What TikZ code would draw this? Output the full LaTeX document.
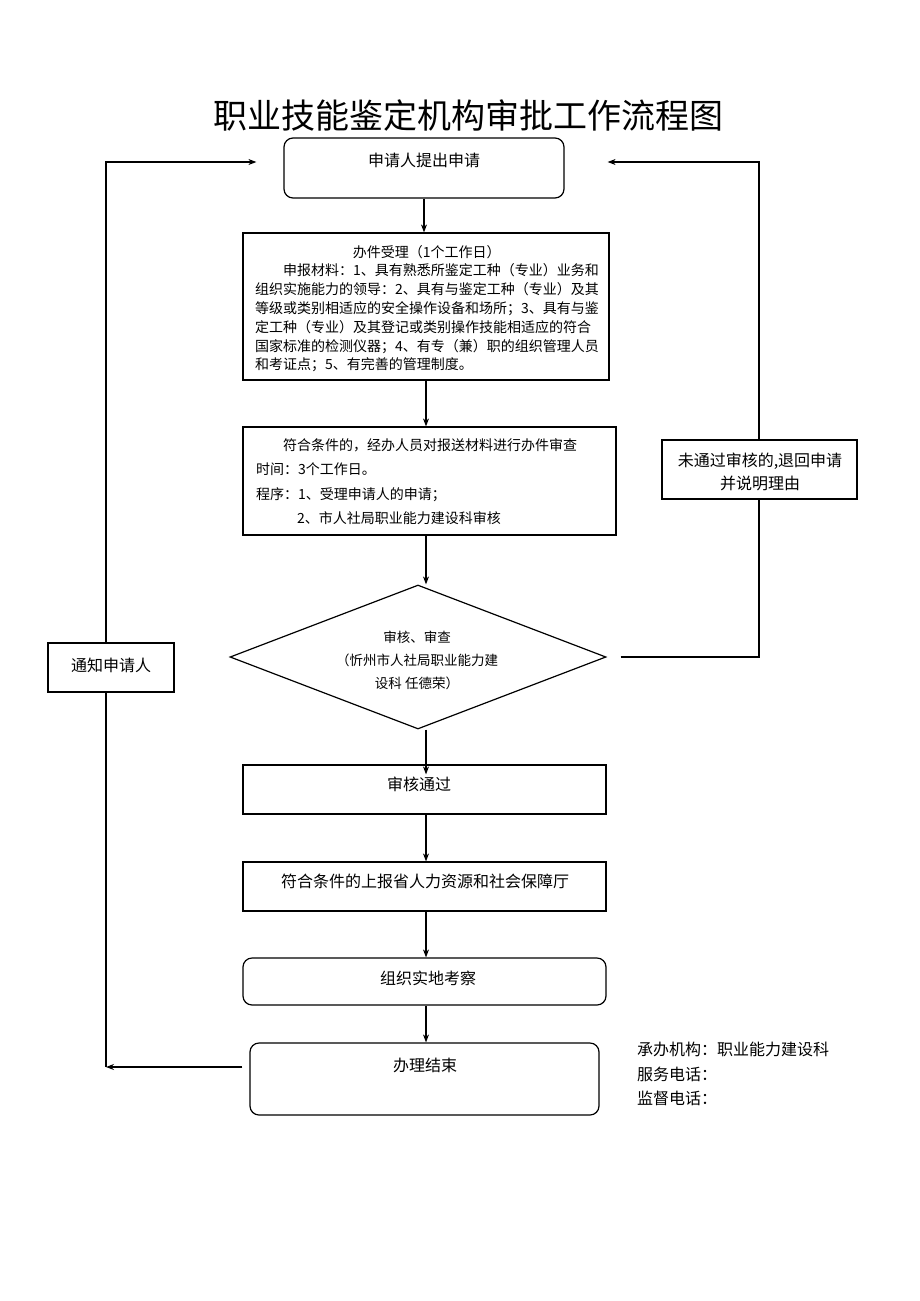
\documentclass[tikz,border=0pt]{standalone}
\usepackage{fontspec}
\setmainfont{Noto Sans CJK SC}
\usetikzlibrary{arrows.meta,shapes.geometric}
\begin{document}
\begin{tikzpicture}[x=1pt,y=-1pt,
  box/.style={draw,line width=1.2pt,inner sep=0pt,fill=white},
  rbox/.style={box,rounded corners=9pt},
  arr/.style={-{Stealth[length=8pt,width=6pt]},line width=1.1pt},
  conn/.style={line width=1.1pt},
  t16/.style={inner sep=0pt,font=\fontsize{16}{24}\selectfont}]
\useasboundingbox (0,0) rectangle (920,1301);
\fill[white] (0,0) rectangle (920,1301);

\node[inner sep=0pt,font=\fontsize{34}{40}\selectfont] (title) at (468,116) {职业技能鉴定机构审批工作流程图};

% boxes
\node[rbox,minimum width=280,minimum height=60] (b1) at (424,168) {};
\node[t16] (b1t) at (424,160) {申请人提出申请};

\node[box,minimum width=366,minimum height=147] (b2) at (426,306.5) {};
\node[anchor=north west,inner sep=0pt,align=left,font=\fontsize{14}{18.8}\selectfont] (b2t) at (255,245)
{\makebox[343pt]{办件受理（1个工作日）}\\
\hspace*{28pt}申报材料：1、具有熟悉所鉴定工种（专业）业务和\\
组织实施能力的领导：2、具有与鉴定工种（专业）及其\\
等级或类别相适应的安全操作设备和场所；3、具有与鉴\\
定工种（专业）及其登记或类别操作技能相适应的符合\\
国家标准的检测仪器；4、有专（兼）职的组织管理人员\\
和考证点；5、有完善的管理制度。};

\node[box,minimum width=373,minimum height=108] (b3) at (429.5,481) {};
\node[anchor=north west,inner sep=0pt,align=left,font=\fontsize{14}{24.5}\selectfont] (b3t) at (256,438)
{\hspace*{27pt}符合条件的，经办人员对报送材料进行办件审查\\
时间：3个工作日。\\
程序：1、受理申请人的申请；\\
\hspace*{41pt}2、市人社局职业能力建设科审核};

\node[draw,diamond,line width=1.2pt,inner sep=0pt,minimum width=376,minimum height=144] (dia) at (418,657) {};
\node[inner sep=0pt,align=center,font=\fontsize{13.5}{23}\selectfont] (diat) at (417,660)
{审核、审查\\（忻州市人社局职业能力建\\设科 任德荣）};

\node[box,minimum width=363,minimum height=49] (b4) at (424.5,789.5) {};
\node[t16] (b4t) at (419,784) {审核通过};

\node[box,minimum width=363,minimum height=49] (b5) at (424.5,886.5) {};
\node[t16] (b5t) at (425,881) {符合条件的上报省人力资源和社会保障厅};

\node[rbox,minimum width=363,minimum height=47] (b6) at (424.5,981.5) {};
\node[t16] (b6t) at (428,978) {组织实地考察};

\node[rbox,minimum width=349,minimum height=72] (b7) at (424.5,1079) {};
\node[t16] (b7t) at (425,1065) {办理结束};

% main arrows
\draw[arr] (b1.south) -- (b1.south |- b2.north);
\draw[arr] (b2.south) -- (b2.south |- b3.north);
\draw[arr] (b3.south -| b2.south) -- (dia.north -| b2.south);
\draw[arr,shorten >=-10pt] (dia.south -| b2.south) -- (b4.north -| b2.south);
\draw[arr] (b4.south -| b2.south) -- (b5.north -| b2.south);
\draw[arr] (b5.south -| b2.south) -- (b6.north -| b2.south);
\draw[arr] (b6.south -| b2.south) -- (b7.north -| b2.south);

% left loop
\coordinate (L1) at (106,1067);
\coordinate (L2) at (106,162);
\draw[arr,shorten <=7pt] (b7.west |- L1) -- (L1);
\draw[arr,shorten >=27pt] (L1) -- (L2) -- (b1.west |- L2);
\node[box,minimum width=126,minimum height=49] (n1) at (111,667.5) {};
\node[t16] (n1t) at (111,665) {通知申请人};

% right loop
\coordinate (R1) at (759,657);
\coordinate (R2) at (759,162);
\draw[arr,shorten <=14pt,shorten >=43pt] (dia.east) -- (R1) -- (R2) -- (b1.east |- R2);
\node[box,minimum width=195,minimum height=59] (r1) at (759.5,469.5) {};
\node[t16,align=center,font=\fontsize{16}{23}\selectfont] (r1t) at (760,471.5) {未通过审核的,退回申请\\并说明理由};

% side notes
\node[anchor=north west,inner sep=0pt,align=left,font=\fontsize{16}{24.5}\selectfont] (side) at (637,1042)
{承办机构：职业能力建设科\\服务电话：\\监督电话：};
\end{tikzpicture}
\end{document}
